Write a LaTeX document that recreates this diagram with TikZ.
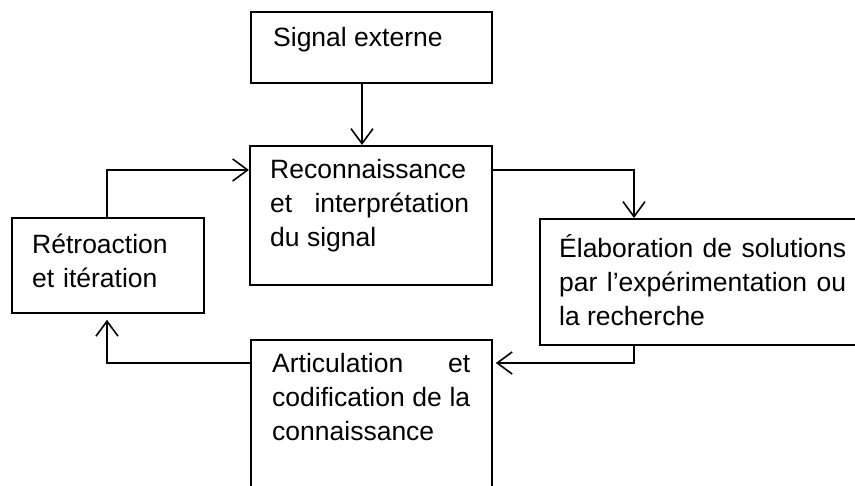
\documentclass[tikz,border=0pt]{standalone}
\usepackage{fontspec}
\setmainfont{Liberation Sans}
\usetikzlibrary{arrows.meta}
\begin{document}
\begin{tikzpicture}[x=1pt,y=-1pt,
  box/.style={draw, line width=1.8pt, anchor=north west, inner sep=0pt},
  txt/.style={inner sep=0pt, anchor=base west, font=\fontsize{26.5}{34}\selectfont},
  conn/.style={draw, line width=1.8pt, -{Straight Barb[length=15pt,width=22pt,line width=1.6pt]}}]
\useasboundingbox (0,0) rectangle (855,486);
\clip (0,0) rectangle (855,486);
% boxes
\node[box, minimum width=241pt, minimum height=71pt] (sig) at (250,11) {};
\node[box, minimum width=242pt, minimum height=139pt] (rec) at (249,145) {};
\node[box, minimum width=192pt, minimum height=95pt] (ret) at (11,217) {};
\node[box, minimum width=330pt, minimum height=126pt] (ela) at (539,218) {};
\node[box, minimum width=241pt, minimum height=200pt] (art) at (250,339) {};
% texts
\node[txt] (sigt) at (273,47) {Signal externe};
\node[txt, text width=199pt, align=justify] (rect) at (270,179)
  {Reconnaissance\linebreak et interprétation\linebreak du signal};
\node[txt, text width=165pt, align=left] (rett) at (32,254) {Rétroaction\\et itération};
\node[txt, text width=287pt, align=justify] (elat) at (559,258)
  {Élaboration de solutions\linebreak par l’expérimentation ou\linebreak la recherche};
\node[txt, text width=198pt, align=justify] (artt) at (272,373)
  {Articulation et\linebreak codification de la\linebreak connaissance};
% connectors
\draw[conn] ([xshift=112pt]sig.south west) -- ([xshift=113pt]rec.north west);
\draw[conn] ([yshift=-25pt]rec.north east) -| ([xshift=95pt]ela.north west);
\draw[conn, shorten >=3pt] ([xshift=95pt]ela.south west) |- ([yshift=-24pt]art.north east);
\draw[conn, shorten >=6pt] ([yshift=-24pt]art.north west) -| ([xshift=96pt]ret.south west);
\draw[conn] ([xshift=96pt]ret.north west) |- ([yshift=-25pt]rec.north west);
\end{tikzpicture}
\end{document}
